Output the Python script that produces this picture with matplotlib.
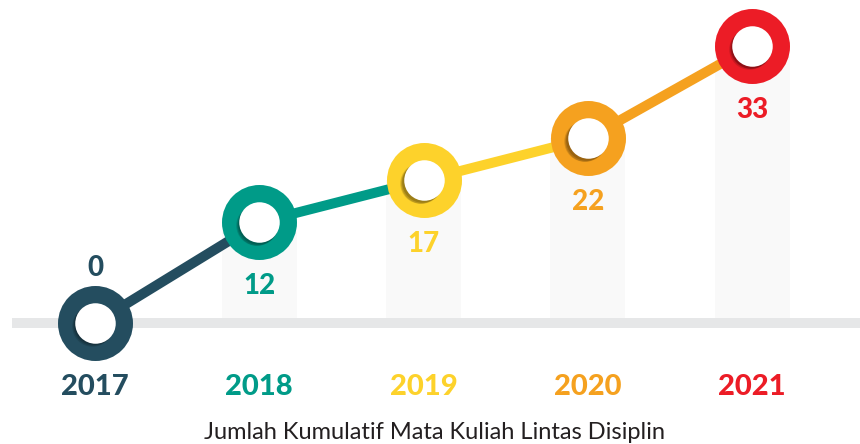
import matplotlib
matplotlib.use("Agg")
import matplotlib.pyplot as plt
import matplotlib.transforms as mtransforms
import numpy as np

years = ["2017", "2018", "2019", "2020", "2021"]
values = [0, 12, 17, 22, 33]
colors = ["#244d5f", "#009b88", "#fdd22b", "#f5a11f", "#ec1c26"]
shadow_colors = ["#10262f", "#004a41", "#7a6010", "#7a4e0c", "#6e0c10"]
caption = "Jumlah Kumulatif Mata Kuliah Lintas Disiplin"

plt.rcParams['font.family'] = ['Lato', 'DejaVu Sans']

DPI = 100
fig = plt.figure(figsize=(8.6, 4.44), dpi=DPI)
ax = fig.add_axes([0, 0, 1, 1])
ax.set_axis_off()

xpx = 164.25
ypx = 8.39
ax.set_xlim(-95 / xpx, (860 - 95) / xpx)
ax.set_ylim((323 - 444) / ypx, 323 / ypx)

x = np.arange(len(years))
px2pt = 72.0 / DPI

# baseline band
ax.axhline(0, xmin=12 / 860, xmax=1, color="#e6e7e8", lw=10 * px2pt, zorder=1, solid_capstyle="butt")

# faint columns behind points
bar_w = 75 / xpx
for i in range(1, len(years)):
    ax.bar(x[i], values[i] + 0.6, bottom=-0.6, width=bar_w, color="#f9f9f9", zorder=0.5)

# coloured line segments
for i in range(len(years) - 1):
    ax.plot(x[i:i + 2], values[i:i + 2], color=colors[i], lw=10 * px2pt,
            solid_capstyle="butt", zorder=2)

# rings
outer = 75 * px2pt
inner = 40.5 * px2pt
for i in range(len(years)):
    ax.plot(x[i], values[i], 'o', ms=outer, color=colors[i], mec='none', zorder=3)
    for k, (dx, dy, a) in enumerate([(-3.5, -3.0, 0.25), (-2.5, -2.2, 0.35), (-1.5, -1.4, 0.45)]):
        tr = mtransforms.offset_copy(ax.transData, fig=fig, x=dx, y=dy, units='dots')
        ax.plot(x[i], values[i], 'o', ms=inner, color=shadow_colors[i], alpha=a,
                mec='none', zorder=4 + k * 0.1, transform=tr)
    ax.plot(x[i], values[i], 'o', ms=inner, color='white', mec='none', zorder=5)

# value labels
for i in range(len(years)):
    off = 55 if i == 0 else -64
    tr = mtransforms.offset_copy(ax.transData, fig=fig, x=0, y=off, units='dots')
    ax.text(x[i], values[i], str(values[i]), transform=tr, ha='center', va='center',
            fontsize=20, fontweight='black', color=colors[i], zorder=6)

# year labels
trb = mtransforms.blended_transform_factory(ax.transData, fig.transFigure)
for i in range(len(years)):
    ax.text(x[i], 1 - 387 / 444, years[i], transform=trb, ha='center', va='center',
            fontsize=21, fontweight='black', color=colors[i])

fig.text(434 / 860, 1 - 432 / 444, caption, ha='center', va='center',
         fontsize=17, color='#231f20')

fig.savefig("out.png", dpi=DPI)
